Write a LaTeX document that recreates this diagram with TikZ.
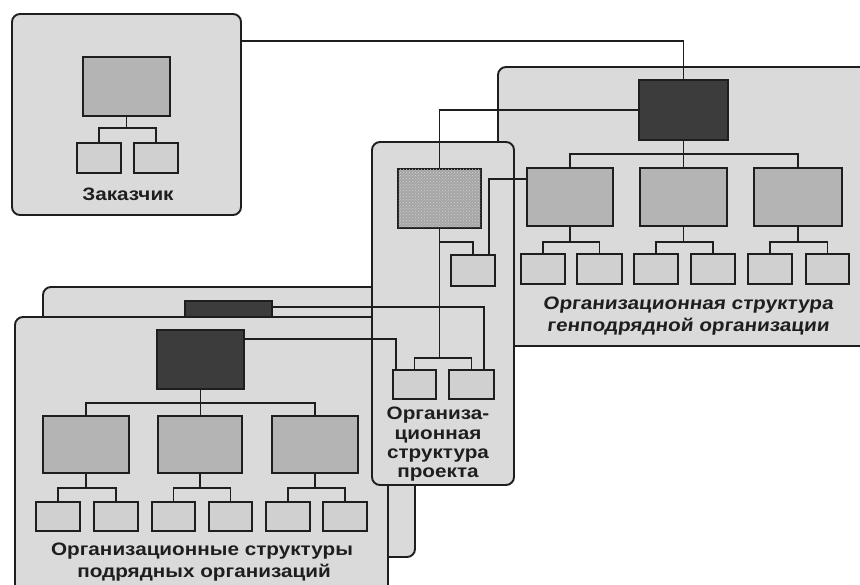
\documentclass[tikz,border=0pt]{standalone}
\usepackage{fontspec}
\setmainfont{Liberation Sans}
\newfontfamily\lblfont[FakeStretch=1.15]{Liberation Sans}
\newfontfamily\slfont[FakeSlant=0.12,FakeStretch=1.15]{Liberation Sans}
\usetikzlibrary{patterns,calc}
\definecolor{ln}{HTML}{1E1E1E}
\definecolor{pan}{HTML}{DADADA}
\definecolor{midf}{HTML}{B4B4B4}
\definecolor{smallf}{HTML}{D0D0D0}
\definecolor{darkf}{HTML}{3C3C3C}
\definecolor{stipf}{HTML}{A6A6A6}
\newcommand{\bx}[6]{\node[#1, anchor=north west, minimum width=\fpeval{#5-#3}pt, minimum height=\fpeval{#6-#4}pt] (#2) at (#3,#4) {};}
\newcommand{\twotree}[4]{%
  \path (#2.north) ++(0,-#4) coordinate (#1-bus);
  \draw[conn] (#2.north) -- (#1-bus) -| (#3.north);
  \draw[conn] (#1.south) -- (#1.south |- #1-bus);}
\newcommand{\threetree}[5]{%
  \path (#2.north) ++(0,-#5) coordinate (#1-bus);
  \draw[conn] (#2.north) -- (#1-bus) -| (#4.north);
  \draw[conn] (#1.south) -- (#1.south |- #3.north);}
\begin{document}
\begin{tikzpicture}[x=1pt,y=-1pt,
  panel/.style={draw=ln, line width=1.9pt, fill=pan, rounded corners=8pt, inner sep=0pt, outer sep=0pt},
  bigbox/.style={draw=ln, line width=1.9pt, fill=midf, inner sep=0pt, outer sep=0pt},
  smallbox/.style={draw=ln, line width=1.9pt, fill=smallf, inner sep=0pt, outer sep=0pt},
  darkbox/.style={draw=ln, line width=1.9pt, fill=darkf, inner sep=0pt, outer sep=0pt},
  stipbox/.style={draw=ln, line width=1.9pt, fill=stipf, inner sep=0pt, outer sep=0pt,
     postaction={pattern=crosshatch dots, pattern color=gray!40}},
  conn/.style={draw=ln, line width=1.8pt},
  lbl/.style={font=\lblfont\bfseries\fontsize{18}{20}\selectfont, text=ln, inner sep=0pt, anchor=base},
  slbl/.style={font=\slfont\bfseries\fontsize{18}{20}\selectfont, text=ln, inner sep=0pt, anchor=base}]
\useasboundingbox (0,0) rectangle (860,585);
\clip (0,0) rectangle (860,585);
\fill[white] (0,0) rectangle (860,585);

% ---- Customer
\bx{panel}{zak}{12}{14}{241}{215}
\bx{bigbox}{ztop}{83}{57}{170}{116}
\bx{smallbox}{za}{77}{143}{121}{173}
\bx{smallbox}{zb}{134}{143}{178}{173}
\twotree{ztop}{za}{zb}{15}
\node[lbl] (zakl) at (128,201) {Заказчик};

% ---- Subcontractors (back)
\bx{panel}{sbp}{43}{287}{415}{557}
\bx{darkbox}{sbk}{185}{301}{272}{323}
% ---- Subcontractors (front)
\bx{panel}{sfp}{15}{317}{388}{610}
\bx{darkbox}{sdk}{157}{330}{244}{389}
\bx{bigbox}{sm1}{43}{416}{129}{473}
\bx{bigbox}{sm2}{158}{416}{242}{473}
\bx{bigbox}{sm3}{272}{416}{358}{473}
\threetree{sdk}{sm1}{sm2}{sm3}{13}
\bx{smallbox}{s1a}{36}{502}{80}{531}
\bx{smallbox}{s1b}{94}{502}{138}{531}
\bx{smallbox}{s2a}{152}{502}{195}{531}
\bx{smallbox}{s2b}{209}{502}{252}{531}
\bx{smallbox}{s3a}{266}{502}{310}{531}
\bx{smallbox}{s3b}{323}{502}{367}{531}
\twotree{sm1}{s1a}{s1b}{14}
\twotree{sm2}{s2a}{s2b}{14}
\twotree{sm3}{s3a}{s3b}{14}
\node[lbl] (sl1) at (202,555) {Организационные структуры};
\node[lbl] (sl2) at (204,577) {подрядных организаций};

% ---- General contractor
\bx{panel}{gd}{498}{67}{880}{346}
\bx{darkbox}{gdk}{639}{80}{728}{140}
\bx{bigbox}{gm1}{527}{168}{613}{226}
\bx{bigbox}{gm2}{640}{168}{727}{226}
\bx{bigbox}{gm3}{754}{168}{842}{226}
\threetree{gdk}{gm1}{gm2}{gm3}{14}
\bx{smallbox}{g1a}{521}{254}{565}{284}
\bx{smallbox}{g1b}{577}{254}{622}{284}
\bx{smallbox}{g2a}{634}{254}{678}{284}
\bx{smallbox}{g2b}{691}{254}{735}{284}
\bx{smallbox}{g3a}{748}{254}{792}{284}
\bx{smallbox}{g3b}{806}{254}{849}{284}
\twotree{gm1}{g1a}{g1b}{12}
\twotree{gm2}{g2a}{g2b}{12}
\twotree{gm3}{g3a}{g3b}{12}
\node[slbl] (gl1) at (688,310) {Организационная структура};
\node[slbl] (gl2) at (688,332) {генподрядной организации};

% ---- Project
\bx{panel}{pp}{372}{142}{514}{485}
\bx{stipbox}{pt}{398}{169}{481}{228}
\bx{smallbox}{ps}{451}{255}{495}{286}
\bx{smallbox}{pa}{393}{370}{436}{399}
\bx{smallbox}{pb}{449}{370}{494}{399}
\twotree{pt}{pa}{pb}{12}
\path (pt.south) ++(0,14) coordinate (pbr);
\draw[conn] (pbr) -| (ps.north);
\node[lbl] (pl1) at (438,420) {Организа-};
\node[lbl] (pl2) at (438,439) {ционная};
\node[lbl] (pl3) at (438,458) {структура};
\node[lbl] (pl4) at (438,477) {проекта};

% ---- Cross connectors
\coordinate (zc) at (241,41);
\draw[conn] (zc) -| (gdk.north);
\draw[conn] (gdk.west) -| (pt.north);
\coordinate (c1) at ($(gm1.north west)+(0,11)$);
\coordinate (psr) at ($(ps.north east)+(-6,0)$);
\draw[conn] (c1) -| (psr);
\coordinate (c2) at ($(sdk.north east)+(0,9)$);
\coordinate (paL) at ($(pa.north west)+(3,0)$);
\draw[conn] (c2) -| (paL);
\coordinate (c3) at ($(sbk.north east)+(0,6)$);
\coordinate (pbR) at ($(pb.north east)+(-10,0)$);
\draw[conn] (c3) -| (pbR);
\end{tikzpicture}
\end{document}
